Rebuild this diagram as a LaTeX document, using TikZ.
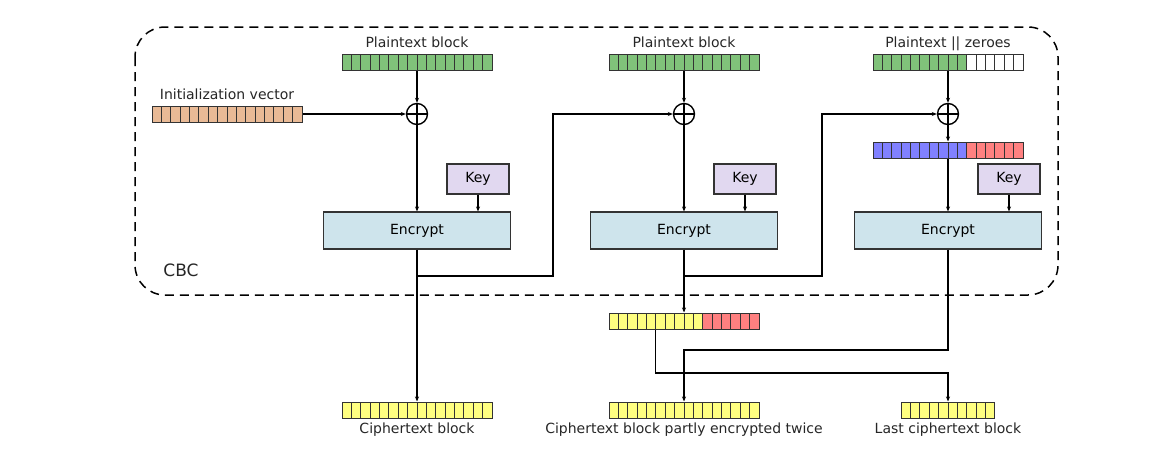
\documentclass[tikz,border=0pt]{standalone}
\usepackage{fontspec}
\setmainfont{DejaVu Sans}
\usetikzlibrary{arrows.meta}

\definecolor{ptgreen}{RGB}{128,194,122}
\definecolor{ivorange}{RGB}{233,186,150}
\definecolor{ctyellow}{RGB}{255,255,128}
\definecolor{padred}{RGB}{255,128,128}
\definecolor{padblue}{RGB}{128,128,255}
\definecolor{keyviolet}{RGB}{225,216,240}
\definecolor{encblue}{RGB}{206,228,236}

% a block of cells: name, x, y, cells, colour, more cells, colour
\newcommand{\cellbar}[7]{%
  \pgfmathsetmacro{\barw}{(#4+#6)*9.375}
  \pgfmathsetmacro{\barl}{#2-\barw/2}
  \foreach \i in {1,...,#4} {
    \draw[cell, fill=#5] ({\barl+(\i-1)*9.375},{#3-8}) rectangle ++(9.375,16);
  }
  \ifnum#6>0
    \foreach \i in {1,...,#6} {
      \draw[cell, fill=#7] ({\barl+(#4+\i-1)*9.375},{#3-8}) rectangle ++(9.375,16);
    }
  \fi
  \node[bar, minimum width=\barw pt] (#1) at (#2,#3) {};
}

\begin{document}
\begin{tikzpicture}[
  x=1pt, y=-1pt,
  font=\fontsize{14}{17}\selectfont,
  cell/.style={draw=black!80, line width=1pt},
  bar/.style={rectangle, draw=black!80, line width=1pt, minimum height=16pt, inner sep=0pt},
  xorop/.style={circle, draw, line width=1.4pt, minimum size=21pt, inner sep=0pt,
    path picture={\draw[line width=1.4pt]
      (path picture bounding box.north) -- (path picture bounding box.south)
      (path picture bounding box.west) -- (path picture bounding box.east);}},
  keybox/.style={rectangle, draw=black!80, fill=keyviolet, line width=1.1pt, minimum width=62pt, minimum height=30pt, inner sep=0pt},
  cipher/.style={rectangle, draw=black!80, fill=encblue, line width=1.1pt, minimum width=187pt, minimum height=37pt, inner sep=0pt},
  connection/.style={-{Stealth[length=5pt, width=4pt]}, line width=1.4pt},
  caption/.style={anchor=base, inner sep=1pt, text=black!85}
]
  \useasboundingbox (0,0) rectangle (1175,458);
  \draw[dashed, dash pattern=on 9pt off 6pt, line width=1.5pt, rounded corners=30pt]
    (135,27) rectangle (1058,295);
  \node[caption, font=\fontsize{17}{20}\selectfont] (cbc) at (181,276) {CBC};

  \node[caption] (ptlabel1) at (417,47) {Plaintext block};
  \node[caption] (ptlabel2) at (684,47) {Plaintext block};
  \node[caption] (ptlabel3) at (948,47) {Plaintext || zeroes};
  \node[caption] (ivlabel) at (227,99) {Initialization vector};

  \cellbar{pt1}{417}{62}{16}{ptgreen}{0}{white}
  \cellbar{pt2}{684}{62}{16}{ptgreen}{0}{white}
  \cellbar{pt3}{948}{62}{10}{ptgreen}{6}{white}
  \cellbar{iv}{227}{114}{16}{ivorange}{0}{white}
  \cellbar{pad}{948}{150}{10}{padblue}{6}{padred}
  \cellbar{mix}{684}{321}{10}{ctyellow}{6}{padred}
  \cellbar{ct1}{417}{410}{16}{ctyellow}{0}{white}
  \cellbar{ct2}{684}{410}{16}{ctyellow}{0}{white}
  \cellbar{ct3}{948}{410}{10}{ctyellow}{0}{white}

  \foreach \n/\x in {1/417, 2/684, 3/948} {
    \node[xorop] (xor\n) at (\x,114) {};
    \node[cipher] (enc\n) at (\x,230.5) {Encrypt};
    \node[keybox] (key\n) at (\x+61,179) {Key};
    \draw[connection] (key\n) -- (key\n |- enc\n.north);
    \draw[connection] (pt\n) -- (xor\n);
  }

  \node[caption] (ctlabel1) at (417,433) {Ciphertext block};
  \node[caption] (ctlabel2) at (684,433) {Ciphertext block partly encrypted twice};
  \node[caption] (ctlabel3) at (948,433) {Last ciphertext block};

  % chaining
  \draw[connection] (iv) -- (xor1);
  \draw[connection] (xor1) -- (enc1);
  \draw[connection] (xor2) -- (enc2);
  \draw[connection] (xor3) -- (pad);
  \draw[connection] (pad) -- (enc3);
  \draw[connection] (enc1) -- (ct1);
  \draw[connection] (enc2) -- (mix);

  \coordinate (split1) at (417,276);
  \coordinate (turn1) at (553,276);
  \draw[connection] (split1) -- (turn1) |- (xor2);
  \coordinate (split2) at (684,276);
  \coordinate (turn2) at (822,276);
  \draw[connection] (split2) -- (turn2) |- (xor3);

  % ciphertext stealing swap
  \coordinate (jog3) at (684,350);
  \draw[connection] (enc3) |- (jog3) -- (ct2);
  \coordinate (jog2) at (948,373);
  \draw[connection] ([xshift=47pt]mix.south west) |- (jog2) -- (ct3);
\end{tikzpicture}
\end{document}
